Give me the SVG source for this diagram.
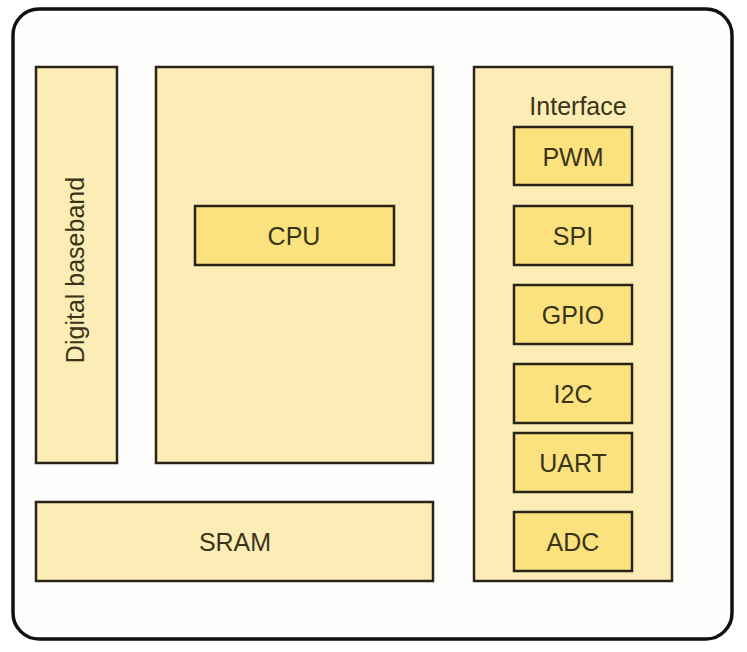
<svg xmlns="http://www.w3.org/2000/svg" width="747" height="652" viewBox="0 0 747 652">
<style>
.outer{fill:#fefefc;stroke:#111;stroke-width:3.5}
.box{fill:#fcedb6;stroke:#2a2418;stroke-width:2.5}
.inner{fill:#fbe27f;stroke:#2a2418;stroke-width:2.5}
text{font-family:"Liberation Sans",Arial,sans-serif;font-size:25px;fill:#3a3418;text-anchor:middle;dominant-baseline:central}
</style>
<rect width="747" height="652" fill="#ffffff"/>
<g id="chip"><rect class="outer" x="13" y="9" width="719" height="630" rx="26"/></g>
<g id="baseband"><rect class="box" x="36" y="67" width="81" height="396"/><text transform="translate(75,270) rotate(-90)">Digital baseband</text></g>
<g id="cpu-area"><rect class="box" x="156" y="67" width="277" height="396"/></g>
<g id="cpu"><rect class="inner" x="195" y="206" width="199" height="59"/><text x="294" y="236">CPU</text></g>
<g id="sram"><rect class="box" x="36" y="502" width="397" height="79"/><text x="235" y="542">SRAM</text></g>
<g id="interface"><rect class="box" x="474" y="67" width="198" height="514"/><text x="578" y="106" font-size="24">Interface</text></g>
<g id="pwm"><rect class="inner" x="514" y="127" width="118" height="58"/><text x="573" y="157">PWM</text></g>
<g id="spi"><rect class="inner" x="514" y="206" width="118" height="59"/><text x="573" y="236">SPI</text></g>
<g id="gpio"><rect class="inner" x="514" y="285" width="118" height="59"/><text x="573" y="315">GPIO</text></g>
<g id="i2c"><rect class="inner" x="514" y="364" width="118" height="59"/><text x="573" y="394">I2C</text></g>
<g id="uart"><rect class="inner" x="514" y="433" width="118" height="59"/><text x="573" y="463">UART</text></g>
<g id="adc"><rect class="inner" x="514" y="512" width="118" height="59"/><text x="573" y="542">ADC</text></g>
<g id="connectors"></g>
</svg>
